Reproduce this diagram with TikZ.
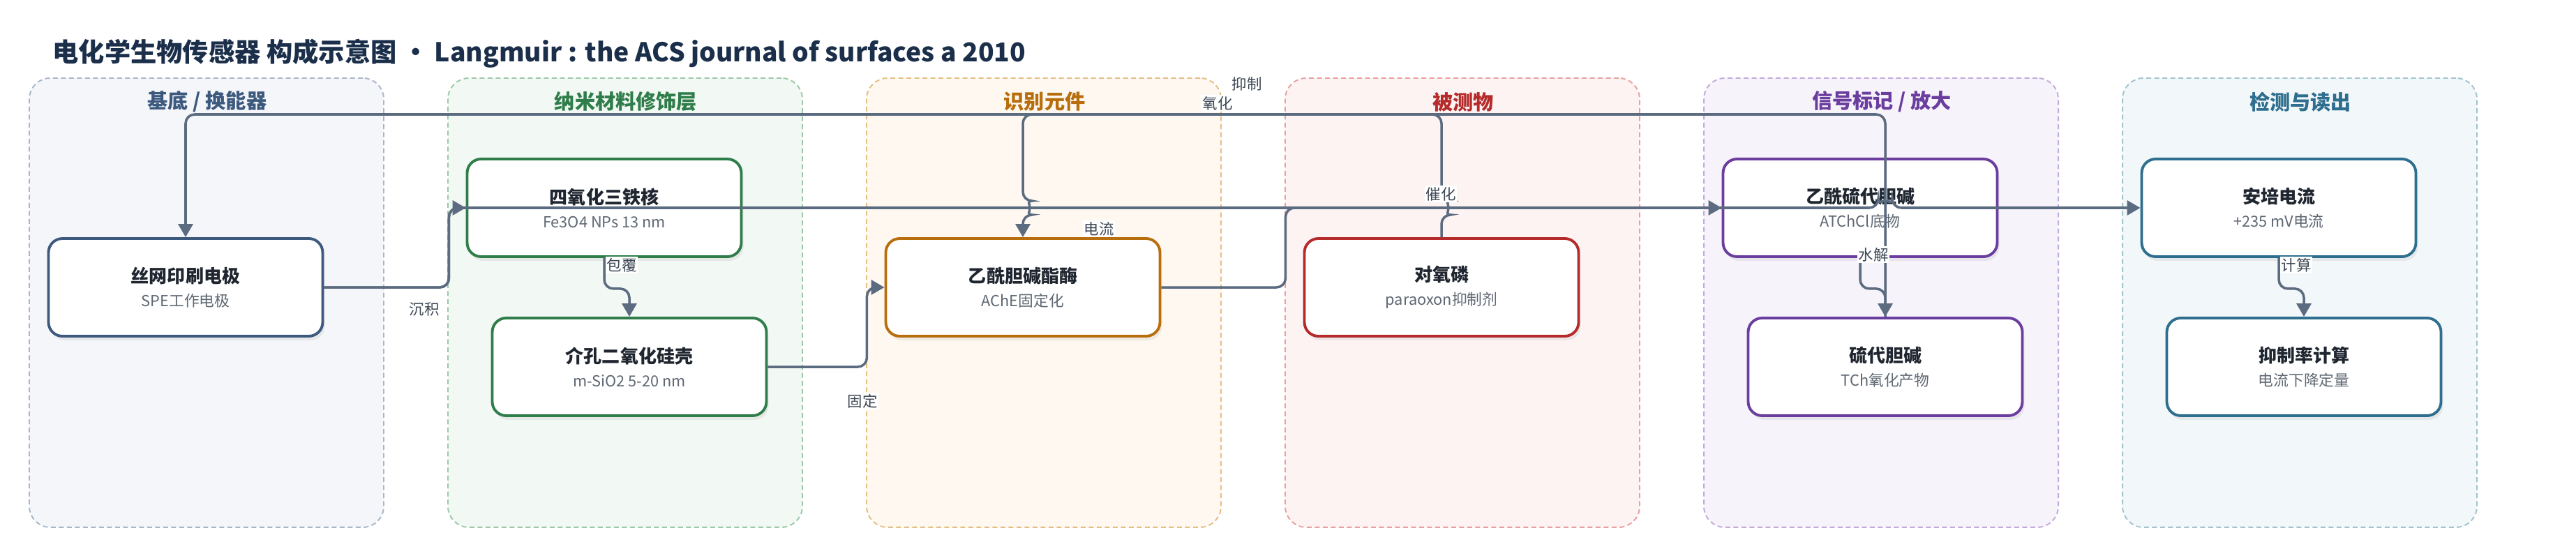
\documentclass[tikz,border=0pt]{standalone}
\usepackage{fontspec}
\setmainfont{Noto Sans CJK SC}
\usetikzlibrary{arrows.meta,calc,positioning,shadows}

\definecolor{edgecol}{HTML}{5B6B80}
\definecolor{titlecol}{HTML}{1B2F4B}
\definecolor{nodetext}{HTML}{1F2630}
\definecolor{subtext}{HTML}{5F6873}
\definecolor{labeltext}{HTML}{3D4754}
\definecolor{f1}{HTML}{F4F6FA}\definecolor{l1}{HTML}{A9B6CA}\definecolor{n1}{HTML}{3D5A7E}
\definecolor{f2}{HTML}{F2F8F3}\definecolor{l2}{HTML}{9CC9A8}\definecolor{n2}{HTML}{2F7D4A}
\definecolor{f3}{HTML}{FEF8F0}\definecolor{l3}{HTML}{E6BE84}\definecolor{n3}{HTML}{B86E0C}
\definecolor{f4}{HTML}{FDF3F3}\definecolor{l4}{HTML}{E8A0A0}\definecolor{n4}{HTML}{B52A2A}
\definecolor{f5}{HTML}{F6F3FA}\definecolor{l5}{HTML}{C4AADC}\definecolor{n5}{HTML}{6A3D9E}
\definecolor{f6}{HTML}{F2F7F9}\definecolor{l6}{HTML}{A3C3CF}\definecolor{n6}{HTML}{2E6E8E}

\newcommand{\NodeText}[2]{{\bfseries\fontsize{7.4}{9.7}\selectfont #1}\\{\color{subtext}\fontsize{6.2}{9.7}\selectfont #2}}

\begin{document}
\begin{tikzpicture}[
    PanelStyle/.style 2 args={draw=#1, fill=#2, line width=0.55pt,
      dash pattern=on 0.07cm off 0.045cm, rounded corners=0.3cm,
      minimum width=5.08cm, minimum height=6.44cm},
    PanelTitle/.style={font=\bfseries\fontsize{8.3}{9}\selectfont, text=#1},
    BoxStyle/.style={draw=#1, line width=1.1pt, fill=white,
      rounded corners=0.2cm, minimum width=3.93cm, minimum height=1.40cm,
      align=center, text=nodetext, font=\fontsize{6.2}{9.7}\selectfont,
      drop shadow={opacity=0.12, shadow xshift=0.03cm, shadow yshift=-0.06cm}},
    EdgeStyle/.style={draw=edgecol, line width=1pt, rounded corners=0.13cm,
      -{Triangle[length=0.19cm,width=0.21cm]}},
    LabelStyle/.style={fill=white, inner sep=0.5pt, text=labeltext,
      font=\fontsize{6.1}{7}\selectfont}
  ]
  \useasboundingbox (0,0) rectangle (36.92,-7.79);

  \node[anchor=west, inner sep=0pt, font=\bfseries\fontsize{10.6}{12}\selectfont, text=titlecol] (title) at (0.75,-0.77)
    {电化学生物传感器 构成示意图 · Langmuir : the ACS journal of surfaces a 2010};

  % panels
  \node[PanelStyle={l1}{f1}] (p1) at (2.96,-4.34) {};
  \node[PanelStyle={l2}{f2}] (p2) at (8.96,-4.34) {};
  \node[PanelStyle={l3}{f3}] (p3) at (14.96,-4.34) {};
  \node[PanelStyle={l4}{f4}] (p4) at (20.96,-4.34) {};
  \node[PanelStyle={l5}{f5}] (p5) at (26.96,-4.34) {};
  \node[PanelStyle={l6}{f6}] (p6) at (32.96,-4.34) {};
  \node[PanelTitle=n1] (t1) at (2.97,-1.46) {基底 / 换能器};
  \node[PanelTitle=n2] (t2) at (8.97,-1.46) {纳米材料修饰层};
  \node[PanelTitle=n3] (t3) at (14.97,-1.46) {识别元件};
  \node[PanelTitle=n4] (t4) at (20.97,-1.46) {被测物};
  \node[PanelTitle=n5] (t5) at (26.97,-1.46) {信号标记 / 放大};
  \node[PanelTitle=n6] (t6) at (32.97,-1.46) {检测与读出};

  % components
  \node[BoxStyle=n1] (spe) at (2.66,-4.12) {\NodeText{丝网印刷电极}{SPE工作电极}};
  \node[BoxStyle=n2] (fe) at (8.66,-2.98) {\NodeText{四氧化三铁核}{Fe3O4 NPs 13 nm}};
  \node[BoxStyle=n2] (si) at (9.02,-5.26) {\NodeText{介孔二氧化硅壳}{m-SiO2 5-20 nm}};
  \node[BoxStyle=n3] (ache) at (14.66,-4.12) {\NodeText{乙酰胆碱酯酶}{AChE固定化}};
  \node[BoxStyle=n4] (para) at (20.66,-4.12) {\NodeText{对氧磷}{paraoxon抑制剂}};
  \node[BoxStyle=n5] (atc) at (26.66,-2.98) {\NodeText{乙酰硫代胆碱}{ATChCl底物}};
  \node[BoxStyle=n5] (tch) at (27.02,-5.26) {\NodeText{硫代胆碱}{TCh氧化产物}};
  \node[BoxStyle=n6] (amp) at (32.66,-2.98) {\NodeText{安培电流}{+235 mV电流}};
  \node[BoxStyle=n6] (rate) at (33.02,-5.26) {\NodeText{抑制率计算}{电流下降定量}};

  \coordinate (topy) at (0,-1.64);
  \coordinate (jumpy) at (0,-2.98);

  % connectors
  \draw[EdgeStyle] (spe.east) -- ++(1.79,0) |- (fe.west);
  \draw[EdgeStyle] (spe.east) -- ++(1.79,0) |- ($(tch.north |- amp.west)+(-0.1,0)$)
    arc[start angle=180, end angle=0, radius=0.1] -- (amp.west);
  \draw[EdgeStyle] (fe.south) -- ++(0,-0.44) -| (si.north);
  \draw[EdgeStyle] (si.east) -- ++(1.42,0) |- (ache.west);
  \draw[EdgeStyle] (ache.east) -- ++(1.78,0) |- (atc.west);
  \draw[EdgeStyle] (para.north) -- ($(para.north |- jumpy)+(0,-0.1)$)
    arc[start angle=-90, end angle=90, radius=0.1] -- (para.north |- topy)
    -- (ache.north |- topy) -- ($(ache.north |- jumpy)+(0,0.1)$)
    arc[start angle=90, end angle=-90, radius=0.1] -- (ache.north);
  \draw[EdgeStyle] (atc.south) -- ++(0,-0.44) -| (tch.north);
  \draw[EdgeStyle] (tch.north) -- (tch.north |- topy) -- (spe.north |- topy) -- (spe.north);
  \draw[EdgeStyle] (amp.south) -- ++(0,-0.44) -| (rate.north);

  % edge labels
  \node[LabelStyle] (e1) at (6.08,-4.43) {沉积};
  \node[LabelStyle] (e2) at (8.91,-3.80) {包覆};
  \node[LabelStyle] (e3) at (12.36,-5.75) {固定};
  \node[LabelStyle] (e4) at (20.65,-2.78) {催化};
  \node[LabelStyle] (e5) at (17.87,-1.20) {抑制};
  \node[LabelStyle] (e6) at (26.85,-3.65) {水解};
  \node[LabelStyle] (e7) at (17.45,-1.48) {氧化};
  \node[LabelStyle] (e8) at (15.75,-3.28) {电流};
  \node[LabelStyle] (e9) at (32.91,-3.80) {计算};
\end{tikzpicture}
\end{document}
